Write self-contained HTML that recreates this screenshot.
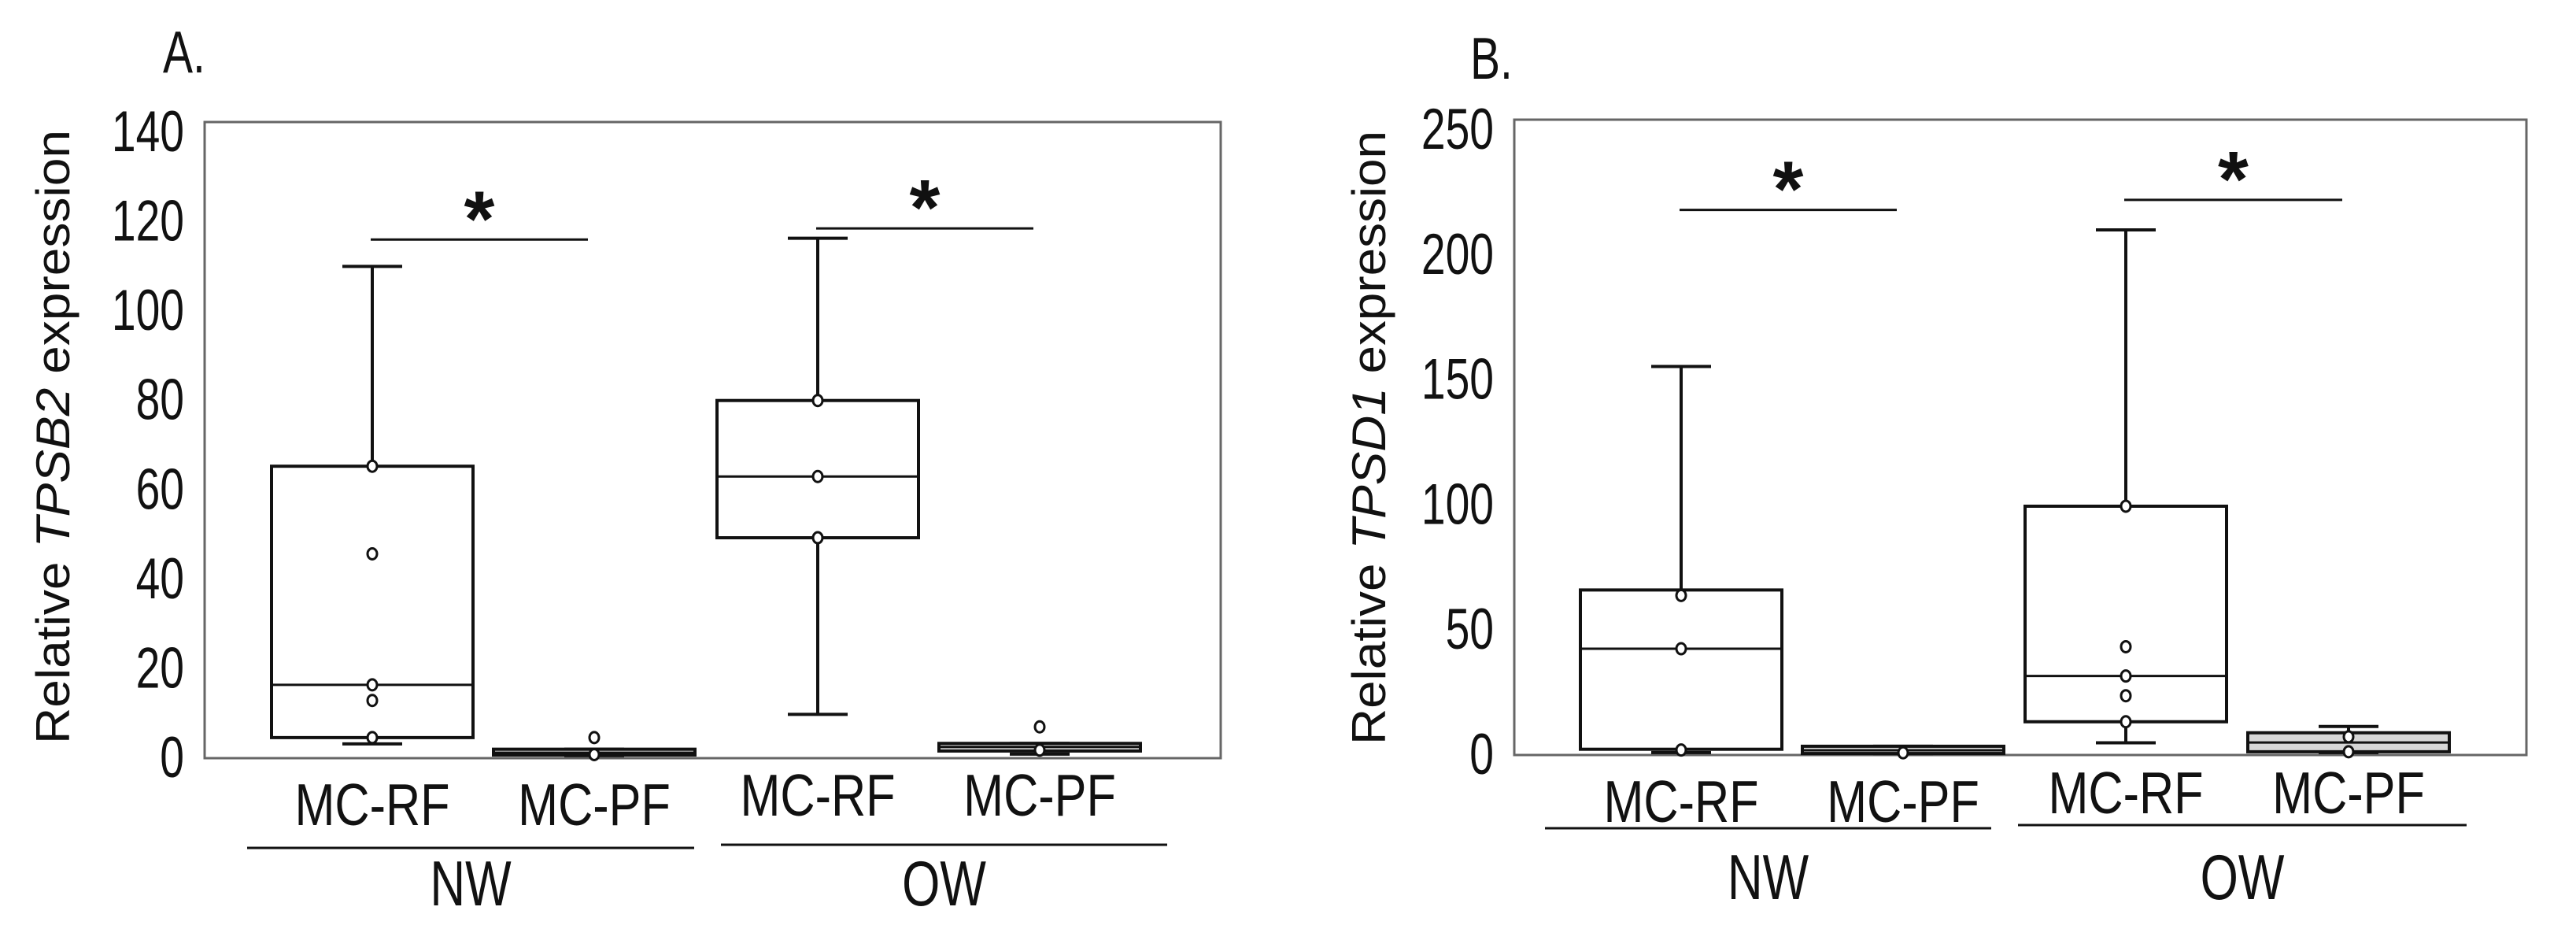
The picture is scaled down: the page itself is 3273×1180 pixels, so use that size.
<!DOCTYPE html>
<html><head><meta charset="utf-8"><style>
html,body{margin:0;padding:0;background:#fff;}
svg text{font-family:"Liberation Sans","Noto Sans CJK JP",sans-serif;fill:#111;}
</style></head><body>
<svg id="fig" width="3273" height="1175" viewBox="0 0 3273 1175" xmlns="http://www.w3.org/2000/svg"></svg>
<script>
// Panel A: TPSB2
const catsA = ["MC-RF","MC-PF","MC-RF","MC-PF"];
const groupsA = ["NW","OW"];
const ticksA = [0,20,40,60,80,100,120,140];
const whiskLowA = [3.2,0.6,9.8,0.9];
const q1A = [4.6,0.7,49.3,1.6];
const medA = [16.4,1.2,63,2.5];
const q3A = [65.3,2.0,80,3.3];
const whiskHighA = [110,2.0,116.3,3.3];
const pointsA = [[65.3,45.7,16.4,12.9,4.6],[4.6,0.8],[80,63,49.3],[7,1.8]];
const sigA = [[0,1,116],[2,3,118.5]];
// Panel B: TPSD1
const catsB = ["MC-RF","MC-PF","MC-RF","MC-PF"];
const groupsB = ["NW","OW"];
const ticksB = [0,50,100,150,200,250];
const whiskLowB = [1,0.6,4.9,1];
const q1B = [2.3,0.6,13.3,1.3];
const medB = [42.5,1.9,31.6,5];
const q3B = [66,3.5,99.5,8.9];
const whiskHighB = [155.4,3.5,210,11.4];
const pointsB = [[63.8,42.5,2],[0.9],[99.5,43.3,31.6,23.7,13.3],[7.3,1.3]];
const sigB = [[0,1,218],[2,3,222]];

const svg = document.getElementById('fig');
const NS = "http://www.w3.org/2000/svg";
function mk(tag, attrs, parent){
  const e = document.createElementNS(NS, tag);
  for (const k in attrs) e.setAttribute(k, attrs[k]);
  (parent||svg).appendChild(e);
  return e;
}
function txt(parent, x, y, s, size, anchor, sx, sy){
  const t = mk('text', {x:0, y:0, 'font-size':size, 'text-anchor':anchor, transform:`translate(${x},${y}) scale(${sx},${sy})`}, parent);
  t.textContent = s;
  return t;
}

function panel(cfg){
  const g = mk('g', {});
  
  
  const y = v => cfg.y0 - v * (cfg.y0 - cfg.yTop) / cfg.vTop;
  const x = i => cfg.centers[i];
  const fr = mk('rect', {x:cfg.left, y:cfg.top, width:cfg.right-cfg.left, height:cfg.y0-cfg.top, fill:'none', stroke:'#666', 'stroke-width':3}, g);
  
  
  cfg.ticks.forEach(t => {
    const tx = txt(g, cfg.tickX, y(t)+24, String(t), 60, 'end', 0.92, 1.22);
    
    
  });
  const yt = mk('text', {x:0, y:0, 'font-size':60, transform:`translate(${cfg.ytX},${cfg.ytY}) rotate(-90)`, 'text-anchor':'middle', textLength:cfg.ytLen, lengthAdjust:'spacingAndGlyphs'}, g);
  
  
  const t1 = mk('tspan', {}, yt); t1.textContent = 'Relative ';
  const t2 = mk('tspan', {'font-style':'italic'}, yt); t2.textContent = cfg.gene;
  const t3 = mk('tspan', {}, yt); t3.textContent = ' expression';
  const pl = txt(g, cfg.labX, cfg.labY, cfg.label, 60, 'start', 0.95, 1.25);
  
  
  const hw = 128, cap = 38;
  cfg.cats.forEach((c, i) => {
    const bg = mk('g', {}, g);
    
    
    const fill = (i % 2 === 1) ? '#d6d6d6' : '#fff';
    mk('line', {x1:x(i), x2:x(i), y1:y(cfg.wh[i]), y2:y(cfg.q3[i]), stroke:'#111', 'stroke-width':4}, bg);
    mk('line', {x1:x(i), x2:x(i), y1:y(cfg.q1[i]), y2:y(cfg.wl[i]), stroke:'#111', 'stroke-width':4}, bg);
    mk('line', {x1:x(i)-cap, x2:x(i)+cap, y1:y(cfg.wh[i]), y2:y(cfg.wh[i]), stroke:'#111', 'stroke-width':4}, bg);
    mk('line', {x1:x(i)-cap, x2:x(i)+cap, y1:y(cfg.wl[i]), y2:y(cfg.wl[i]), stroke:'#111', 'stroke-width':4}, bg);
    mk('rect', {x:x(i)-hw, y:y(cfg.q3[i]), width:2*hw, height:Math.max(1, y(cfg.q1[i])-y(cfg.q3[i])), fill:fill, stroke:'#111', 'stroke-width':4}, bg);
    mk('line', {x1:x(i)-hw, x2:x(i)+hw, y1:y(cfg.med[i]), y2:y(cfg.med[i]), stroke:'#111', 'stroke-width':3}, bg);
    cfg.pts[i].forEach(p => {
      const pt = mk('ellipse', {cx:x(i), cy:y(p), rx:6, ry:7, fill:'#fff', stroke:'#111', 'stroke-width':3}, bg);
      
      
    });
    const lb = txt(g, x(i), cfg.catY[Math.floor(i/2)], c, 60, 'middle', 1.02, 1.25);
    
    
  });
  cfg.groups.forEach((gr, k) => {
    const gl = cfg.groupLines[k];
    const ln = mk('line', {x1:gl[0], x2:gl[1], y1:gl[2], y2:gl[2], stroke:'#111', 'stroke-width':3}, g);
    
    
    const gt = txt(g, (gl[0]+gl[1])/2, cfg.groupTextY, gr, 62, 'middle', 1.0, 1.3);
    
    
  });
  cfg.sig.forEach(s => {
    const sy = y(s[2]);
    const x1 = x(s[0]) - 2, x2 = x(s[1]) - 8;
    const sl = mk('line', {x1:x1, x2:x2, y1:sy, y2:sy, stroke:'#111', 'stroke-width':3}, g);
    
    
    const st = mk('text', {x:(x1+x2)/2, y:sy+8, 'text-anchor':'middle', 'font-size':100, 'font-weight':'bold'}, g);
    st.textContent = '*';
    
    
  });
}

panel({name:'panel-a', label:'A.', labX:207, labY:92, gene:'TPSB2',
  left:260, right:1551, top:155, y0:963, yTop:168, vTop:140, ticks:ticksA, tickX:234,
  ytX:88, ytY:555, ytLen:780,
  centers:[473,755,1039,1321], cats:catsA, groups:groupsA,
  wl:whiskLowA, q1:q1A, med:medA, q3:q3A, wh:whiskHighA, pts:pointsA, sig:sigA,
  catY:[1048,1036], groupLines:[[314,882,1077],[916,1483,1073]], groupTextY:1150});

panel({name:'panel-b', label:'B.', labX:1868, labY:100, gene:'TPSD1',
  left:1924, right:3210, top:152, y0:959, yTop:165, vTop:250, ticks:ticksB, tickX:1898,
  ytX:1760, ytY:556, ytLen:780,
  centers:[2136,2418,2701,2984], cats:catsB, groups:groupsB,
  wl:whiskLowB, q1:q1B, med:medB, q3:q3B, wh:whiskHighB, pts:pointsB, sig:sigB,
  catY:[1044,1033], groupLines:[[1963,2530,1052],[2564,3134,1048]], groupTextY:1142});
</script>
</body></html>
